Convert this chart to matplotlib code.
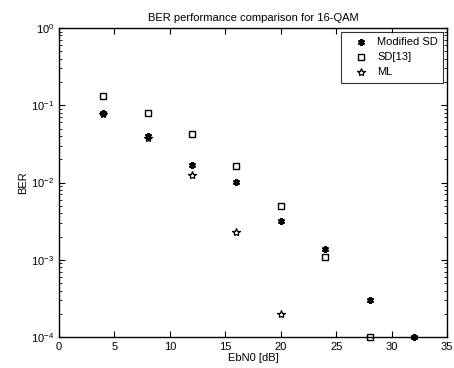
import matplotlib
matplotlib.use('Agg')
import matplotlib.pyplot as plt
from matplotlib.ticker import LogLocator, NullFormatter

plt.rcParams['font.family'] = ['Liberation Sans', 'DejaVu Sans']

# values
ebn0_mod = [4, 8, 12, 16, 20, 24, 28, 32]
ber_mod = [0.079, 0.040, 0.017, 0.0103, 0.0032, 0.0014, 0.0003, 0.0001]

ebn0_sd = [4, 8, 12, 16, 20, 24, 28]
ber_sd = [0.13, 0.080, 0.042, 0.0166, 0.005, 0.0011, 0.0001]

ebn0_ml = [4, 8, 12, 16, 20]
ber_ml = [0.077, 0.038, 0.0126, 0.0023, 0.0002]

fig = plt.figure(figsize=(4.54, 3.68), dpi=100)
ax = fig.add_axes([0.130, 0.084, 0.855, 0.840])

asterisk = (6, 2, 0)
ax.semilogy(ebn0_mod, ber_mod, linestyle='none', marker=asterisk, color='k',
            markersize=5, markeredgewidth=1.5, label='Modified SD', clip_on=False)
ax.semilogy(ebn0_sd, ber_sd, linestyle='none', marker='s', markerfacecolor='none',
            markeredgecolor='k', markersize=5, markeredgewidth=1.0, label='SD[13]', clip_on=False)
ax.semilogy(ebn0_ml, ber_ml, linestyle='none', marker='*', markerfacecolor='none',
            markeredgecolor='k', markersize=6, markeredgewidth=0.9, label='ML', clip_on=False)

ax.set_xlim(0, 35)
ax.set_ylim(1e-4, 1)
ax.set_xticks([0, 5, 10, 15, 20, 25, 30, 35])
ax.yaxis.set_major_locator(LogLocator(base=10, numticks=10))
ax.yaxis.set_minor_locator(LogLocator(base=10, subs=range(2, 10), numticks=10))
ax.yaxis.set_minor_formatter(NullFormatter())
ax.tick_params(which='both', direction='in', top=True, right=True, labelsize=8)
ax.tick_params(which='major', length=4, width=0.8)
ax.tick_params(which='minor', length=2, width=0.6)
for s in ax.spines.values():
    s.set_linewidth(1.0)

ax.set_title('BER performance comparison for 16-QAM', fontsize=8, pad=5)
ax.set_xlabel('EbN0 [dB]', fontsize=8, labelpad=1)
ax.set_ylabel('BER', fontsize=8, labelpad=2)

leg = ax.legend(loc='upper right', fontsize=8, frameon=True, fancybox=False,
                edgecolor='k', borderaxespad=0.35, borderpad=0.5, handletextpad=0.2,
                labelspacing=0.45, handlelength=2.5)
leg.get_frame().set_linewidth(0.8)

fig.savefig('out.png', dpi=100)
